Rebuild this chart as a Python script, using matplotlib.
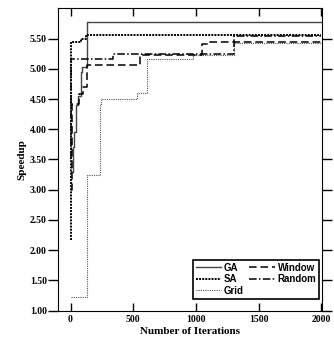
import matplotlib
matplotlib.use('Agg')
import matplotlib.pyplot as plt

# step curves: (iteration, speedup)
ga_iter = [0, 20, 30, 45, 60, 80, 90, 133, 2000]
ga_speed = [3.30, 3.70, 3.95, 4.40, 4.55, 4.95, 5.03, 5.77, 5.77]

sa_iter = [0, 3, 85, 125, 2000]
sa_speed = [2.17, 5.45, 5.50, 5.56, 5.56]

grid_iter = [0, 128, 135, 235, 245, 527, 607, 980, 1300, 2000]
grid_speed = [1.22, 3.05, 3.25, 4.42, 4.50, 4.60, 5.16, 5.22, 5.42, 5.42]

window_iter = [0, 10, 65, 100, 130, 550, 1046, 1110, 2000]
window_speed = [3.00, 4.42, 4.58, 4.70, 5.07, 5.22, 5.41, 5.45, 5.45]

random_iter = [0, 5, 338, 1300, 2000]
random_speed = [3.50, 5.16, 5.24, 5.55, 5.55]

serif = ['Liberation Serif', 'DejaVu Serif']
sans = ['Liberation Sans', 'DejaVu Sans']

fig = plt.figure(figsize=(3.34, 3.43), dpi=100)
ax = fig.add_axes([0.1737, 0.0942, 0.7903, 0.8816])

ax.step(ga_iter, ga_speed, where='post', color='#444444', lw=1.0, label='GA')
ax.step(sa_iter, sa_speed, where='post', color='black', lw=1.4,
        linestyle=(0, (1, 0.6)), label='SA')
ax.step(grid_iter, grid_speed, where='post', color='#555555', lw=0.8,
        linestyle=(0, (1, 1)), label='Grid')
ax.step(window_iter, window_speed, where='post', color='black', lw=1.1,
        linestyle=(0, (5, 2.5)), label='Window')
ax.step(random_iter, random_speed, where='post', color='black', lw=1.1,
        linestyle=(0, (5, 1.5, 1, 1.5)), label='Random')

ax.set_xlim(-100, 2005)
ax.set_ylim(1.0, 6.0)
ax.set_xticks([0, 500, 1000, 1500, 2000])
ax.set_yticks([1.0, 1.5, 2.0, 2.5, 3.0, 3.5, 4.0, 4.5, 5.0, 5.5])
ax.set_yticklabels(['%.2f' % v for v in ax.get_yticks()])
ax.tick_params(axis='x', direction='in', top=True, length=6, width=1, pad=3)
ax.tick_params(axis='y', direction='out', right=True, length=7, width=1, pad=1)
for lab in ax.get_xticklabels() + ax.get_yticklabels():
    lab.set_fontfamily(serif)
    lab.set_fontweight('bold')
    lab.set_fontsize(7)

ax.set_xlabel('Number of Iterations', family=serif, fontweight='bold', fontsize=8, labelpad=2)
ax.set_ylabel('Speedup', family=serif, fontweight='bold', fontsize=8, labelpad=2.5)

leg = ax.legend(loc='lower right', bbox_to_anchor=(0.99, 0.04), borderaxespad=0,
                ncol=2, fancybox=False, edgecolor='black', framealpha=1,
                prop={'family': sans, 'weight': 'bold', 'size': 7},
                handlelength=2.6, handletextpad=0.3, columnspacing=0.6,
                labelspacing=0.15, borderpad=0.3)
leg.get_frame().set_linewidth(1.2)

fig.savefig('out.png', dpi=100)
